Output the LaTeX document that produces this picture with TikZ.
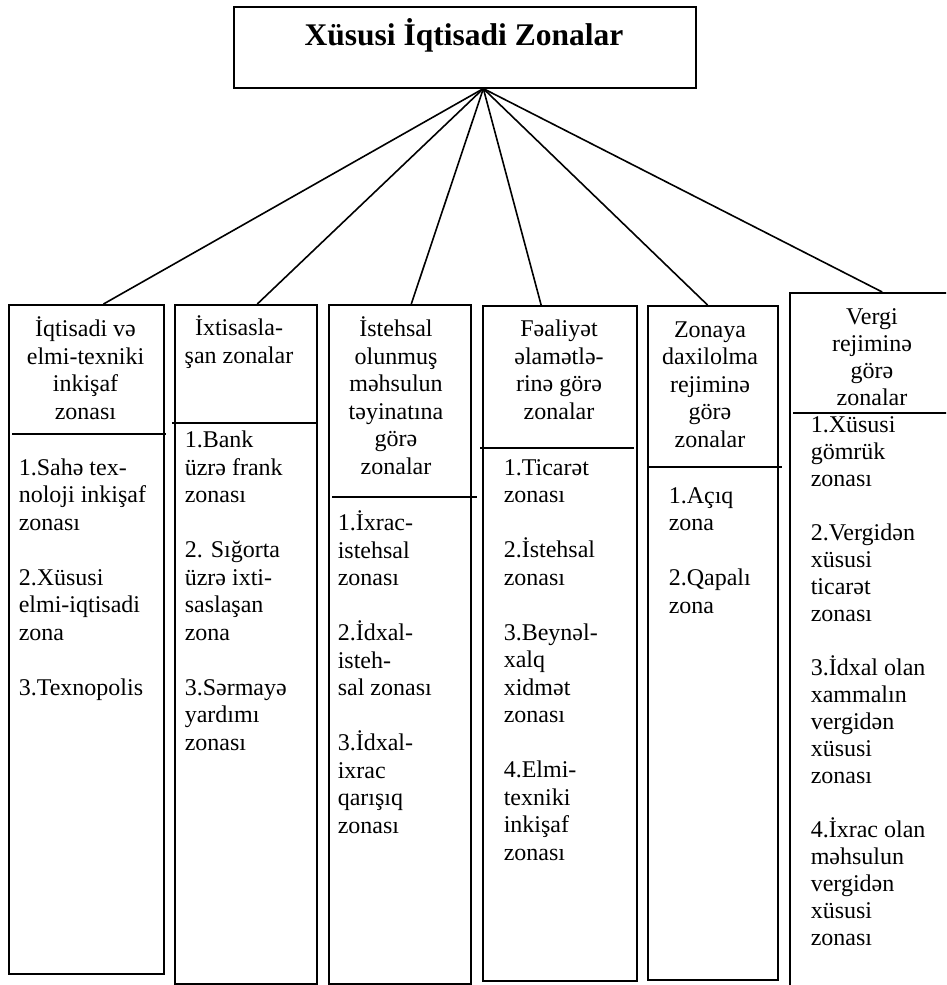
\documentclass[tikz,border=0pt]{standalone}
\usepackage{fontspec}
\setmainfont{Liberation Serif}
\usetikzlibrary{calc}

\begin{document}
\begin{tikzpicture}[
  x=1pt, y=-1pt, line width=1.6pt,
  box/.style={draw, rectangle, anchor=north west, inner sep=0pt},
  hd/.style={align=center, anchor=base, inner sep=0pt, font=\fontsize{24}{27.5}\selectfont},
  bd/.style={align=left, anchor=base west, inner sep=0pt, font=\fontsize{24}{27.5}\selectfont},
  tight/.style={font=\fontsize{24}{27}\selectfont},
]
\useasboundingbox (0,0) rectangle (946,985);
\clip (0,0) rectangle (946,985);

\node[box, minimum width=462, minimum height=81] (top) at (233,6) {};
\node[anchor=base, inner sep=0pt, font=\fontsize{31.5}{36}\selectfont\bfseries] (title) at (464,45) {Xüsusi İqtisadi Zonalar};
\coordinate (hub) at ($(top.south west)!0.54!(top.south east)$);

\node[box, minimum width=155, minimum height=669] (c1) at (8,304) {};
\node[box, minimum width=142, minimum height=679] (c2) at (174,304) {};
\node[box, minimum width=142, minimum height=679] (c3) at (328,304) {};
\node[box, minimum width=154, minimum height=675] (c4) at (482,305) {};
\node[box, minimum width=130, minimum height=674] (c5) at (647,305) {};
\node[box, minimum width=171, minimum height=708] (c6) at (789,292) {};

\foreach \c/\d/\l/\r in {c1/130/4/1, c2/119/-2/0, c3/193/4/5, c4/143/-2/-4, c5/162/0/3, c6/121/4/0}
  \draw ($(\c.north west)+(\l,\d)$) -- ($(\c.north east)+(\r,\d)$);
\foreach \c/\f in {c1/0.61, c2/0.58, c3/0.58, c4/0.38, c5/0.46, c6/0.54}
  \draw (hub) -- ($(\c.north west)!\f!(\c.north east)$);

% headers, placed at the baseline of their last line
\node[hd] (h1) at (85.5,419) {İqtisadi və\\elmi-texniki\\inkişaf\\zonası};
\node[hd] (h2) at (239,363) {İxtisasla-\\şan zonalar};
\node[hd] (h3) at (396,474) {İstehsal\\olunmuş\\məhsulun\\təyinatına\\görə\\zonalar};
\node[hd] (h4) at (559,419) {Fəaliyət\\əlamətlə-\\rinə görə\\zonalar};
\node[hd] (h5) at (710,447) {Zonaya\\daxilolma\\rejiminə\\görə\\zonalar};
\node[hd, tight] (h6) at (872,405) {Vergi\\rejiminə\\görə\\zonalar};

\node[bd] (b1) at (18,695) {1.Sahə tex-\\noloji inkişaf\\zonası\\[27.5pt]
  2.Xüsusi\\elmi-iqtisadi\\zona\\[27.5pt]3.Texnopolis};
\node[bd] (b2) at (184,750) {1.Bank\\üzrə frank\\zonası\\[27.5pt]
  2. Sığorta\\üzrə ixti-\\saslaşan\\zona\\[27.5pt]3.Sərmayə\\yardımı\\zonası};
\node[bd] (b3) at (337,833) {1.İxrac-\\istehsal\\zonası\\[27.5pt]
  2.İdxal-\\isteh-\\sal zonası\\[27.5pt]3.İdxal-\\ixrac\\qarışıq\\zonası};
\node[bd] (b4) at (503,860) {1.Ticarət\\zonası\\[27.5pt]2.İstehsal\\zonası\\[27.5pt]
  3.Beynəl-\\xalq\\xidmət\\zonası\\[27.5pt]4.Elmi-\\texniki\\inkişaf\\zonası};
\node[bd] (b5) at (668,613) {1.Açıq\\zona\\[27.5pt]2.Qapalı\\zona};
\node[bd, tight] (b6) at (810,945) {1.Xüsusi\\gömrük\\zonası\\[27pt]
  2.Vergidən\\xüsusi\\ticarət\\zonası\\[27pt]3.İdxal olan\\xammalın\\vergidən\\xüsusi\\zonası\\[27pt]
  4.İxrac olan\\məhsulun\\vergidən\\xüsusi\\zonası};
\end{tikzpicture}
\end{document}
